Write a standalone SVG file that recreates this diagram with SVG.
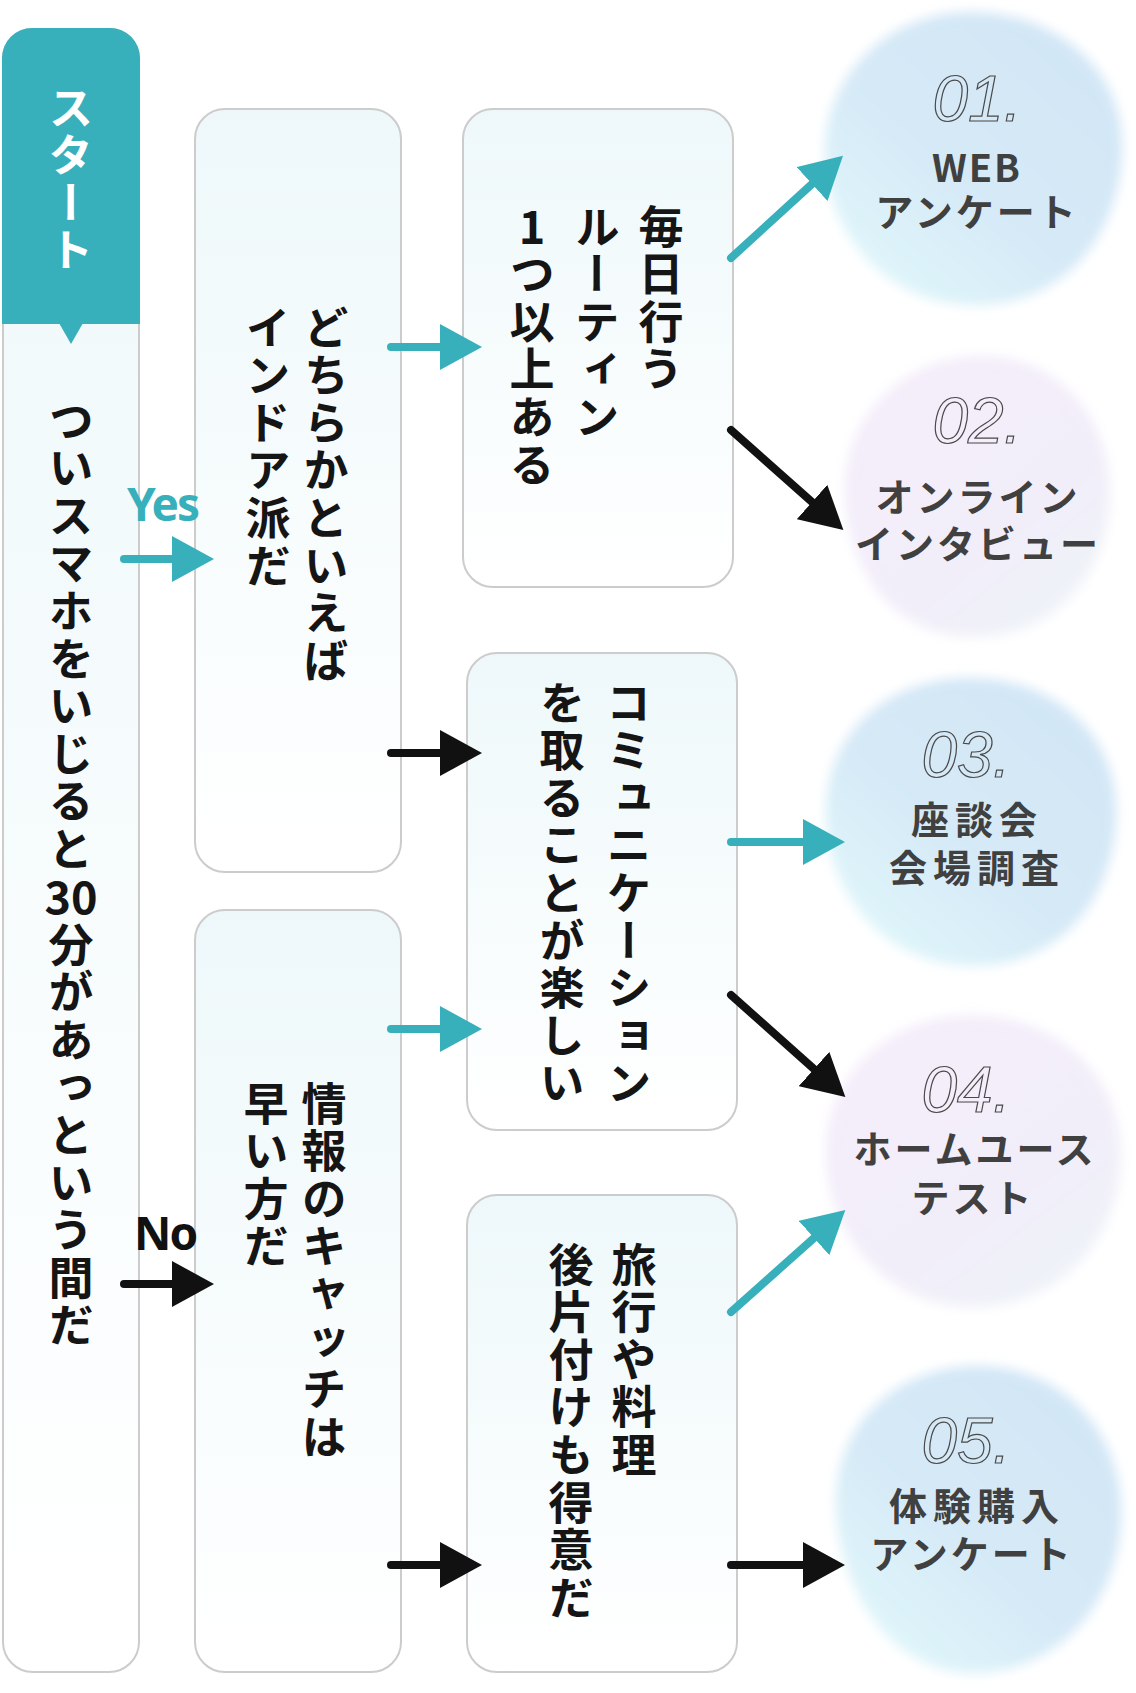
<svg xmlns="http://www.w3.org/2000/svg" width="1136" height="1693" viewBox="0 0 1136 1693">
<defs>
<style>
.box{fill:url(#boxFill);stroke:#cccccc;stroke-width:2}
.vt{writing-mode:vertical-rl;text-orientation:upright;font-family:"Noto Sans CJK JP","Noto Sans CJK SC",sans-serif;font-size:45px;letter-spacing:2.6px;font-weight:700;fill:#151515}
.hz{font-family:"Noto Sans CJK JP",sans-serif;font-size:45px;font-weight:700;fill:#151515;text-anchor:middle}
.lbl{font-family:"Noto Sans","Liberation Sans",sans-serif;font-size:46px;font-weight:700;letter-spacing:-2px}
.res{font-family:"Noto Sans CJK JP","Noto Sans CJK SC",sans-serif;font-size:38px;font-weight:700;fill:#404040;text-anchor:middle;letter-spacing:3px}
.num{font-family:"Liberation Sans",sans-serif;font-style:italic;font-size:64px;fill:none;stroke:#4a4a4a;stroke-width:1.2;text-anchor:middle}
.ct{stroke:#37b0bb;stroke-width:8;stroke-linecap:round;fill:none;marker-end:url(#hT)}
.cb{stroke:#111111;stroke-width:8;stroke-linecap:round;fill:none;marker-end:url(#hB)}
</style>
<linearGradient id="boxFill" x1="0" y1="0" x2="0" y2="1">
<stop offset="0" stop-color="#eef8fa"/>
<stop offset="1" stop-color="#ffffff"/>
</linearGradient>
<linearGradient id="blobBlue" x1="0.9" y1="0.1" x2="0.15" y2="0.95">
<stop offset="0" stop-color="#d2e6f6"/>
<stop offset="0.55" stop-color="#d5e9f7"/>
<stop offset="1" stop-color="#e0f7fa"/>
</linearGradient>
<linearGradient id="blobLav" x1="0.2" y1="0.1" x2="0.85" y2="0.95">
<stop offset="0" stop-color="#f4edfa"/>
<stop offset="0.6" stop-color="#f2eef9"/>
<stop offset="1" stop-color="#eef3f8"/>
</linearGradient>
<filter id="soft" x="-20%" y="-20%" width="140%" height="140%">
<feGaussianBlur stdDeviation="6"/>
</filter>
<marker id="hT" markerUnits="userSpaceOnUse" viewBox="0 0 42 46" markerWidth="42" markerHeight="46" refX="0" refY="23" orient="auto">
<path d="M0,0 L42,23 L0,46 Z" fill="#37b0bb"/>
</marker>
<marker id="hB" markerUnits="userSpaceOnUse" viewBox="0 0 42 46" markerWidth="42" markerHeight="46" refX="0" refY="23" orient="auto">
<path d="M0,0 L42,23 L0,46 Z" fill="#111111"/>
</marker>
</defs>
<rect width="1136" height="1693" fill="#ffffff"/>

<g id="n-start">
<rect class="box" x="3" y="29" width="136" height="1643" rx="30"/>
<path d="M2,324 V58 A30,30 0 0 1 32,28 H110 A30,30 0 0 1 140,58 V324 Z" fill="#37b0bb"/>
<path d="M59,323 L83,323 L71,344 Z" fill="#37b0bb"/>
<text class="vt" x="71" y="85" style="fill:#ffffff">スタート</text>
<text class="vt" x="71" y="398">ついスマホをいじると</text>
<text class="hz" x="71" y="914">30</text>
<text class="vt" x="71" y="922">分があっという間だ</text>
</g>

<g id="n-indoor">
<rect class="box" x="195" y="109" width="206" height="763" rx="30"/>
<text class="vt" x="326" y="305">どちらかといえば</text>
<text class="vt" x="268" y="305">インドア派だ</text>
</g>

<g id="n-info">
<rect class="box" x="195" y="910" width="206" height="762" rx="30"/>
<text class="vt" x="324" y="1081">情報のキャッチは</text>
<text class="vt" x="266" y="1081">早い方だ</text>
</g>

<g id="n-routine">
<rect class="box" x="463" y="109" width="270" height="478" rx="30"/>
<text class="vt" x="661" y="204">毎日行う</text>
<text class="vt" x="597" y="204">ルーティン</text>
<text class="vt" x="532" y="204">1つ以上ある</text>
</g>

<g id="n-comm">
<rect class="box" x="467" y="653" width="270" height="477" rx="30"/>
<text class="vt" x="629" y="680">コミュニケーション</text>
<text class="vt" x="562" y="680">を取ることが楽しい</text>
</g>

<g id="n-travel">
<rect class="box" x="467" y="1195" width="270" height="477" rx="30"/>
<text class="vt" x="634" y="1242">旅行や料理</text>
<text class="vt" x="571" y="1242">後片付けも得意だ</text>
</g>

<g id="r-01">
<path d="M826,170 C816,90 876,15 966,12 C1056,10 1125,70 1122,150 C1120,230 1070,300 985,305 C900,310 836,250 826,170 Z" fill="url(#blobBlue)" filter="url(#soft)"/>
<text class="num" x="977" y="121">01.</text>
<text class="res" x="977" y="182" style="letter-spacing:2px">WEB</text>
<text class="res" x="977" y="226">アンケート</text>
</g>

<g id="r-02">
<path d="M845,500 C840,420 900,358 978,356 C1060,354 1112,420 1110,495 C1108,575 1055,637 975,637 C895,637 850,575 845,500 Z" fill="url(#blobLav)" filter="url(#soft)"/>
<text class="num" x="977" y="443">02.</text>
<text class="res" x="978" y="511">オンライン</text>
<text class="res" x="978" y="558">インタビュー</text>
</g>

<g id="r-03">
<path d="M826,820 C822,740 880,680 965,678 C1055,676 1118,735 1116,815 C1114,900 1060,965 975,966 C890,967 830,900 826,820 Z" fill="url(#blobBlue)" filter="url(#soft)"/>
<text class="num" x="966" y="777">03.</text>
<text class="res" x="977" y="834" style="letter-spacing:6px">座談会</text>
<text class="res" x="977" y="882" style="letter-spacing:6px">会場調査</text>
</g>

<g id="r-04">
<path d="M826,1160 C822,1080 885,1016 970,1015 C1055,1014 1122,1075 1121,1155 C1120,1240 1060,1306 975,1307 C890,1308 830,1240 826,1160 Z" fill="url(#blobLav)" filter="url(#soft)"/>
<text class="num" x="966" y="1112">04.</text>
<text class="res" x="975" y="1163">ホームユース</text>
<text class="res" x="973" y="1212">テスト</text>
</g>

<g id="r-05">
<path d="M836,1510 C832,1430 890,1368 975,1366 C1060,1364 1122,1430 1121,1515 C1120,1600 1060,1672 975,1673 C890,1674 840,1590 836,1510 Z" fill="url(#blobBlue)" filter="url(#soft)"/>
<text class="num" x="966" y="1463">05.</text>
<text class="res" x="977" y="1520" style="letter-spacing:6px">体験購入</text>
<text class="res" x="972" y="1568">アンケート</text>
</g>

<g id="connectors">
<line class="ct" x1="124" y1="559" x2="172" y2="559"/>
<text class="lbl" x="127" y="521" fill="#37b0bb">Yes</text>
<line class="cb" x1="124" y1="1284" x2="172" y2="1284"/>
<text class="lbl" x="134" y="1250" fill="#111111">No</text>
<line class="ct" x1="391" y1="347" x2="440" y2="347"/>
<line class="cb" x1="391" y1="753" x2="440" y2="753"/>
<line class="ct" x1="391" y1="1029" x2="440" y2="1029"/>
<line class="cb" x1="391" y1="1565" x2="440" y2="1565"/>
<line class="ct" x1="731" y1="258" x2="812" y2="184"/>
<line class="cb" x1="731" y1="430" x2="812" y2="502"/>
<line class="ct" x1="731" y1="842" x2="803" y2="842"/>
<line class="cb" x1="731" y1="995" x2="814" y2="1069"/>
<line class="ct" x1="731" y1="1312" x2="814" y2="1238"/>
<line class="cb" x1="731" y1="1565" x2="803" y2="1565"/>
</g>
</svg>
